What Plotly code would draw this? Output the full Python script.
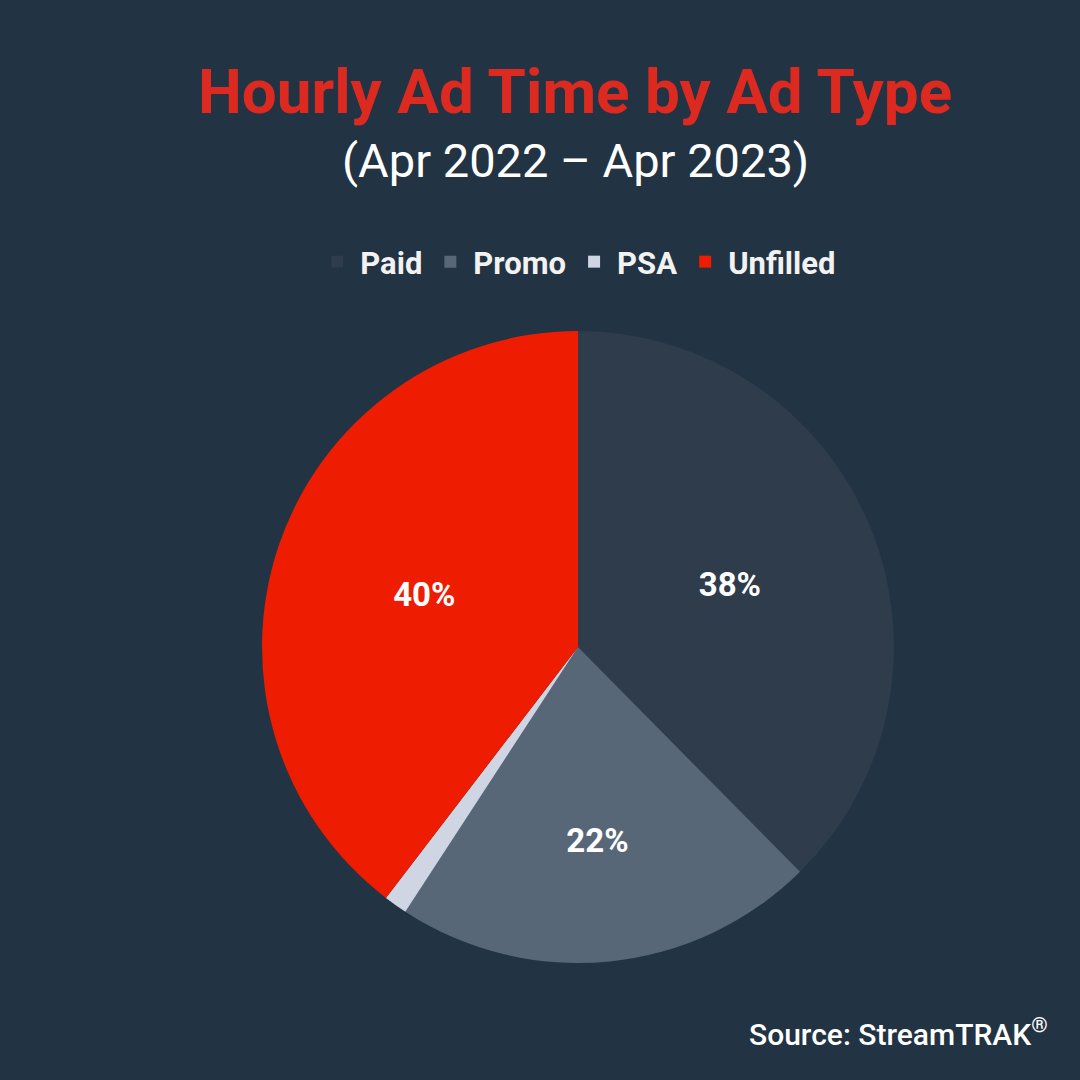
import plotly.graph_objects as go

labels = ["Paid", "Promo", "PSA", "Unfilled"]
values = [37.6, 21.6, 1.2, 39.6]
colors = ["#2e3c4c", "#586778", "#cfd5e3", "#ee1c00"]
text_positions = ["inside", "inside", "none", "inside"]

W = H = 1080
cx, cy, r = 578, 647, 316

fig = go.Figure(go.Pie(
    labels=labels,
    values=values,
    sort=False,
    direction="clockwise",
    rotation=0,
    marker=dict(colors=colors, line=dict(width=0)),
    texttemplate="%{percent:.0%}",
    textposition=text_positions,
    insidetextorientation="horizontal",
    textfont=dict(family="Roboto", size=33, color="white", weight="bold"),
    hoverinfo="label+percent",
    domain=dict(x=[(cx - r) / W, (cx + r) / W], y=[1 - (cy + r) / H, 1 - (cy - r) / H]),
))

fig.update_layout(
    width=W, height=H,
    paper_bgcolor="#223343",
    plot_bgcolor="#223343",
    margin=dict(l=0, r=0, t=0, b=0),
    showlegend=True,
    legend=dict(
        orientation="h", x=0.535, xanchor="center", y=1 - 262 / H, yanchor="middle",
        font=dict(family="Roboto", size=31, color="#f2f2f2", weight="bold"),
        traceorder="normal", itemwidth=36,
    ),
    annotations=[
        dict(text="Hourly Ad Time by Ad Type", x=575 / W, y=1 - 92 / H, xref="paper", yref="paper",
             xanchor="center", yanchor="middle", showarrow=False,
             font=dict(family="Roboto", size=62, color="#dd2a21", weight="bold")),
        dict(text="(Apr 2022 \u2013 Apr 2023)", x=575 / W, y=1 - 160 / H, xref="paper", yref="paper",
             xanchor="center", yanchor="middle", showarrow=False,
             font=dict(family="Roboto", size=47, color="white")),
        dict(text="Source: StreamTRAK<sup>\u00ae</sup>", x=1050 / W, y=1 - 1032 / H, xref="paper", yref="paper",
             xanchor="right", yanchor="middle", showarrow=False,
             font=dict(family="Roboto", size=30, color="white", weight=500)),
    ],
)

fig.write_html("out.html", config={"displayModeBar": False},
               post_script="document.body.style.margin='0';")
